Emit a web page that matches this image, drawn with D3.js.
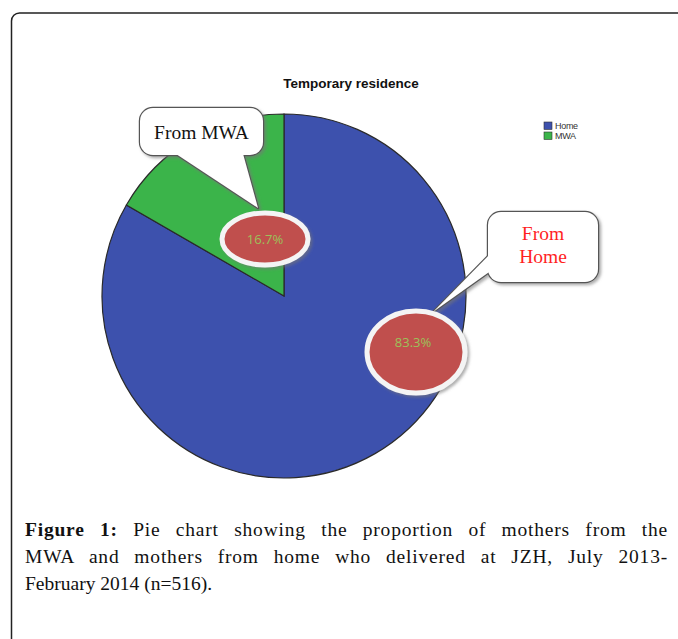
<!DOCTYPE html>
<html>
<head>
<meta charset="utf-8">
<script src="https://cdn.jsdelivr.net/npm/d3@7"></script>
<style>
  body { margin: 0; background: #fff; }
  svg { display: block; }
</style>
</head>
<body>
<svg id="chart" width="678" height="639"></svg>
<script>
// data (n = 516)
const categories = ["Home", "MWA"];
const counts = [430, 86];
const sliceColors = ["#3d51ad", "#3bb44a"];
const percentLabels = ["83.3%", "16.7%"];
const calloutTexts = [["From", "Home"], ["From MWA"]];
const chartTitle = "Temporary residence";
const captionLines = [
    [["Figure 1:", true], [" Pie chart showing the proportion of mothers from the", false]],
    [["MWA and mothers from home who delivered at JZH, July 2013-", false]],
    [["February 2014 (n=516).", false]]
];

const svg = d3.select("#chart");
const defs = svg.append("defs");
defs.append("filter").attr("id", "shadow")
    .attr("x", "-20%").attr("y", "-20%").attr("width", "150%").attr("height", "150%")
    .append("feDropShadow")
    .attr("dx", 2).attr("dy", 2).attr("stdDeviation", 1.8)
    .attr("flood-color", "#777").attr("flood-opacity", 0.6);

// outer frame (right and bottom edges fall outside the window)
svg.append("rect")
   .attr("x", 11.5).attr("y", 13)
   .attr("width", 700).attr("height", 660)
   .attr("rx", 8)
   .attr("fill", "none")
   .attr("stroke", "#222")
   .attr("stroke-width", 1.5);

// title
svg.append("text")
   .attr("x", 351).attr("y", 88)
   .attr("text-anchor", "middle")
   .attr("font-family", "Liberation Sans, Arial, sans-serif")
   .attr("font-weight", "bold")
   .attr("font-size", 13.5)
   .attr("fill", "#111")
   .text(chartTitle);

// pie
const cx = 284, cy = 296, radius = 182;
const color = d3.scaleOrdinal().domain(categories).range(sliceColors);
const pie = d3.pie().sort(null).value(d => d.count);
const arc = d3.arc().innerRadius(0).outerRadius(radius);
const pieData = pie(categories.map((c, i) => ({name: c, count: counts[i]})));

const g = svg.append("g").attr("transform", "translate(" + cx + "," + cy + ")");
g.selectAll("path.slice")
 .data(pieData)
 .enter()
 .append("path")
 .attr("class", "slice")
 .attr("d", arc)
 .attr("fill", d => color(d.data.name))
 .attr("stroke", "#2a2a2a")
 .attr("stroke-width", 1.2);

// legend
const legend = svg.append("g").attr("transform", "translate(544,122)");
const legendRow = legend.selectAll("g")
    .data(categories)
    .enter()
    .append("g")
    .attr("transform", (d, i) => "translate(0," + (i * 10) + ")");
legendRow.append("rect")
    .attr("width", 8).attr("height", 7.5)
    .attr("fill", d => color(d))
    .attr("stroke", "#333").attr("stroke-width", 0.6);
legendRow.append("text")
    .attr("x", 11).attr("y", 7)
    .attr("font-family", "Liberation Sans, Arial, sans-serif")
    .attr("font-size", 9)
    .attr("letter-spacing", -0.3)
    .attr("fill", "#333")
    .text(d => d);

// callout bubbles: rounded box + pointer tail
function callout(box, tail, lines, textColor, lineY) {
    const cg = svg.append("g").attr("filter", "url(#shadow)");
    const draw = (sel, stroke) => {
        sel.append("polygon")
           .attr("points", tail.map(p => p.join(",")).join(" "))
           .attr("fill", "#fff")
           .attr("stroke", stroke ? "#555" : "none")
           .attr("stroke-width", stroke ? 2.4 : 0)
           .attr("stroke-linejoin", "round");
        sel.append("rect")
           .attr("x", box.x).attr("y", box.y)
           .attr("width", box.w).attr("height", box.h)
           .attr("rx", 13)
           .attr("fill", "#fff")
           .attr("stroke", stroke ? "#555" : "none")
           .attr("stroke-width", stroke ? 2.4 : 0);
    };
    draw(cg, true);
    draw(svg.append("g"), false);
    const t = svg.append("text")
        .attr("text-anchor", "middle")
        .attr("font-family", "Liberation Serif, Cambria, serif")
        .attr("font-size", 19.5)
        .attr("fill", textColor);
    lines.forEach((l, i) => {
        t.append("tspan")
         .attr("x", box.x + box.w / 2)
         .attr("y", lineY[i])
         .text(l);
    });
}

callout({x: 140, y: 108, w: 123, h: 47},
        [[170, 150], [242, 150], [258, 208]],
        calloutTexts[1], "#111", [139]);
callout({x: 488, y: 212, w: 110, h: 70},
        [[492, 252], [492, 270], [433, 312]],
        calloutTexts[0], "#ff1f1f", [240, 263]);

// percentage ovals
const ovals = [
    {x: 416, y: 352, rx: 49, ry: 41, tx: 413, ty: 347},
    {x: 265, y: 239, rx: 43, ry: 26, tx: 265, ty: 244}
];
ovals.forEach((o, i) => {
    svg.append("ellipse")
       .attr("cx", o.x).attr("cy", o.y)
       .attr("rx", o.rx).attr("ry", o.ry)
       .attr("fill", "#c0504d")
       .attr("stroke", "#f4f4f4")
       .attr("stroke-width", 5)
       .attr("filter", "url(#shadow)");
    svg.append("text")
       .attr("x", o.tx).attr("y", o.ty)
       .attr("text-anchor", "middle")
       .attr("font-family", "Open Sans, Liberation Sans, sans-serif")
       .attr("font-size", 13)
       .attr("fill", "#9bc15a")
       .text(percentLabels[i]);
});

// caption, first two lines justified between x=25 and x=668
const capLeft = 25, capRight = 668;
const capBase = [536, 563, 590];
captionLines.forEach((parts, i) => {
    const justify = i < captionLines.length - 1;
    const t = svg.append("text")
        .attr("x", capLeft).attr("y", capBase[i])
        .attr("font-family", "Liberation Serif, Cambria, serif")
        .attr("font-size", 19.5)
        .attr("letter-spacing", justify ? 0.8 : 0)
        .attr("fill", "#111");
    parts.forEach(p => {
        t.append("tspan")
         .attr("font-weight", p[1] ? "bold" : null)
         .text(p[0]);
    });
    if (justify) {
        const full = parts.map(p => p[0]).join("");
        const gaps = (full.match(/ /g) || []).length;
        const w = t.node().getComputedTextLength();
        t.attr("word-spacing", (capRight - capLeft - w) / gaps);
    }
});
</script>
</body>
</html>
